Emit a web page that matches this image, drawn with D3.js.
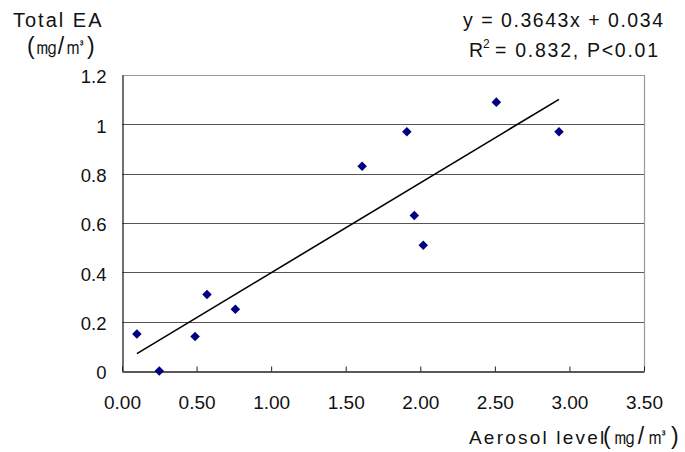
<!DOCTYPE html>
<html>
<head>
<meta charset="utf-8">
<script src="https://cdn.jsdelivr.net/npm/d3@7"></script>
<style>
  html, body { margin: 0; padding: 0; background: #fff; }
  svg { display: block; }
  text { font-family: "Liberation Sans", Arial, sans-serif; fill: #111; }
</style>
</head>
<body>
<div id="chart"></div>
<script>
// ---- data ----
const aerosol = [0.10, 0.25, 0.49, 0.57, 0.76, 1.61, 1.91, 1.96, 2.02, 2.51, 2.93];
const totalEA = [0.15, 0.00, 0.14, 0.31, 0.25, 0.83, 0.97, 0.63, 0.51, 1.09, 0.97];
const xTicks = [0, 0.5, 1, 1.5, 2, 2.5, 3, 3.5];
const yTicks = [0, 0.2, 0.4, 0.6, 0.8, 1, 1.2];
const slope = 0.3643, intercept = 0.034;
const eqText = "y  =  0.3643x  +  0.034";
const r2Text = "= 0.832, P<0.01";
const yTitle1 = "Total EA";
const yTitle2 = "(㎎/㎥)";
const xTitleMain = "Aerosol level";
const xTitleUnit = "(㎎/㎥)";

const W = 685, H = 452;
const margin = {left: 122, right: 41, top: 75, bottom: 81};
const svg = d3.select("#chart").append("svg").attr("width", W).attr("height", H);

const x = d3.scaleLinear().domain([0, 3.5]).range([margin.left, W - margin.right]);
const y = d3.scaleLinear().domain([0, 1.2]).range([H - margin.bottom, margin.top]);

// gridlines
svg.append("g").selectAll("line").data(yTicks.filter(d => d > 0)).join("line")
  .attr("x1", x(0)).attr("x2", x(3.5))
  .attr("y1", d => Math.round(y(d)) + 0.5).attr("y2", d => Math.round(y(d)) + 0.5)
  .attr("stroke", d => d === 1.2 ? "#999" : "#555").attr("stroke-width", 1.2);

// right border
svg.append("line")
  .attr("x1", Math.round(x(3.5)) + 0.5).attr("x2", Math.round(x(3.5)) + 0.5)
  .attr("y1", y(1.2)).attr("y2", y(0))
  .attr("stroke", "#999").attr("stroke-width", 1.2);

// x axis
const xAxis = d3.axisBottom(x).tickValues(xTicks).tickSizeInner(-5).tickSizeOuter(0)
  .tickFormat(d3.format(".2f")).tickPadding(24);
const gx = svg.append("g").attr("transform", `translate(0,${Math.round(y(0)) + 0.5})`).call(xAxis);
gx.select(".domain").attr("stroke", "#222").attr("stroke-width", 1.3);
gx.selectAll(".tick line").attr("stroke", "#222");
gx.selectAll("text").attr("font-size", 19).attr("fill", "#111");

// y axis
const yAxis = d3.axisLeft(y).tickValues(yTicks).tickSize(0).tickPadding(16)
  .tickFormat(d => d3.format("")(+d.toFixed(1)));
const gy = svg.append("g").attr("transform", `translate(${Math.round(x(0)) + 0.5},0)`).call(yAxis);
gy.select(".domain").attr("stroke", "#222").attr("stroke-width", 1.3);
gy.selectAll("text").attr("font-size", 18.5).attr("fill", "#111").attr("dy", "0.42em");

// trend line
const xMin = d3.min(aerosol), xMax = d3.max(aerosol);
svg.append("line")
  .attr("x1", x(xMin)).attr("y1", y(slope * xMin + intercept))
  .attr("x2", x(xMax)).attr("y2", y(slope * xMax + intercept))
  .attr("stroke", "#000").attr("stroke-width", 1.6);

// points
const pts = aerosol.map((v, i) => ({x: v, y: totalEA[i]}));
svg.append("g").selectAll("path").data(pts).join("path")
  .attr("d", d3.symbol().type(d3.symbolDiamond2).size(58))
  .attr("transform", d => `translate(${x(d.x)},${y(d.y)})`)
  .attr("fill", "#000080");

// titles
svg.append("text").attr("x", 13).attr("y", 27).attr("font-size", 20)
  .attr("letter-spacing", 2).text(yTitle1);
svg.append("text").attr("x", 27).attr("y", 54).attr("font-size", 23).text(yTitle2);

svg.append("text").attr("x", 463).attr("y", 27).attr("font-size", 19.5)
  .attr("textLength", 200).attr("lengthAdjust", "spacing").text(eqText);

const r2 = svg.append("text").attr("x", 469).attr("y", 57).attr("font-size", 19.5);
r2.append("tspan").text("R");
r2.append("tspan").attr("font-size", 12).attr("dy", -9).text("2");
r2.append("tspan").attr("x", 495).attr("dy", 9).attr("textLength", 163)
  .attr("lengthAdjust", "spacing").text(r2Text);

const xt = svg.append("text").attr("x", 469).attr("y", 444).attr("font-size", 19);
xt.append("tspan").attr("letter-spacing", 2.2).text(xTitleMain);
xt.append("tspan").attr("x", 603).attr("font-size", 23).attr("letter-spacing", 2).text(xTitleUnit);
</script>
</body>
</html>
